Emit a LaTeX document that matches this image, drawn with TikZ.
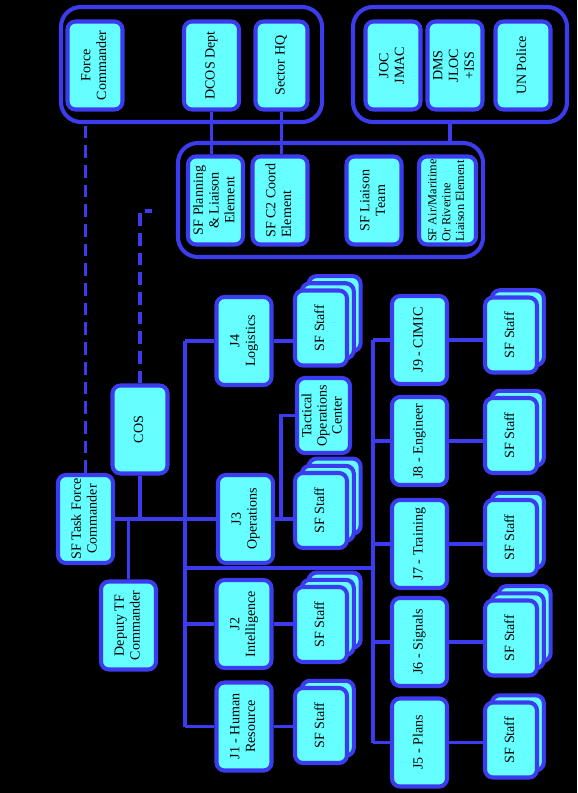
\documentclass[tikz,border=0pt]{standalone}
\usepackage{fontspec}
\setmainfont{Liberation Serif}
\usepackage{graphicx}
\usepackage{tikz}
\usetikzlibrary{positioning,backgrounds}

\definecolor{orgblue}{RGB}{60,60,238}
\definecolor{orgcyan}{RGB}{102,255,255}

% rotated box text
\newcommand{\vtext}[2][c]{\rotatebox{90}{\begin{tabular}{@{}#1@{}}#2\end{tabular}}}
% stack of SF Staff cards
\newcommand{\sfstack}[4]{%
  \foreach \k in {#4,...,1} {
    \node[staffbox, xshift=\k*0.17cm, yshift=\k*0.18cm] at (#2,#3) {};
  }
  \node[staffbox] (#1) at (#2,#3) {\vtext{SF Staff}};
}

\tikzset{
  box/.style={draw=orgblue, line width=2.9pt, fill=orgcyan, rounded corners=0.2cm,
    minimum width=1.375cm, minimum height=2.2cm, inner sep=0pt,
    font=\fontsize{10}{11.2}\selectfont},
  staffbox/.style={box, minimum width=1.3cm, minimum height=1.875cm},
  group/.style={draw=orgblue, line width=2.9pt, rounded corners=0.5cm, inner sep=0pt},
  wire/.style={draw=orgblue, line width=2.3pt},
  dashwire/.style={wire, dash pattern=on 9pt off 5pt}
}

\begin{document}
\begin{tikzpicture}[x=0.025cm, y=-0.025cm]
  % Mission HQ groups
  \node[group, minimum width=6.525cm, minimum height=2.875cm] (grpA) at (191.5,64.5) {};
  \node[group, minimum width=5.35cm, minimum height=2.875cm] (grpB) at (460,64.5) {};
  \node[group, minimum width=7.625cm, minimum height=2.85cm] (grpC) at (330.5,200) {};

  \node[box] (fc) at (95,65.5) {\vtext{Force\\Commander}};
  \node[box] (dcos) at (211.5,65.5) {\vtext{DCOS Dept}};
  \node[box, minimum width=1.3cm] (shq) at (281.5,65.5) {\vtext{Sector HQ}};
  \node[box] (joc) at (393,65.5) {\vtext{JOC\\JMAC}};
  \node[box] (dms) at (455,65.5) {\vtext{DMS\\JLOC\\+ISS}};
  \node[box] (unp) at (523,65.5) {\vtext{UN Police}};

  % Liaison elements
  \node[box] (spl) at (215.5,200.5) {\vtext{SF Planning\\\& Liaison\\Element}};
  \node[box] (sc2) at (280,200.5) {\vtext[l]{SF C2 Coord\\Element}};
  \node[box] (slt) at (374,200.5) {\vtext{SF Liaison\\Team}};
  \node[box, minimum width=1.425cm, font=\fontsize{8.8}{9.8}\selectfont] (sair) at (447.5,200.5)
    {\vtext[l]{SF Air/Maritime\\Or Riverine\\Liaison Element}};

  % Command
  \node[box] (cos) at (140,429.5) {\vtext{COS}};
  \node[box] (tfc) at (85.5,519) {\vtext{SF Task Force\\Commander}};
  \node[box] (dep) at (128.5,625.5) {\vtext{Deputy TF\\Commander}};

  % J1 - J4
  \node[box] (j4) at (244,341) {\vtext{J4\\Logistics}};
  \node[box] (j3) at (245.5,519) {\vtext{J3\\Operations}};
  \node[box] (j2) at (244,624) {\vtext{J2\\Intelligence}};
  \node[box] (j1) at (244,726.5) {\vtext{J1 - Human\\Resource}};

  \sfstack{s4}{321}{328}{2}
  \node[staffbox, minimum width=1.325cm, font=\fontsize{10}{10.8}\selectfont] (toc) at (323.5,415.5)
    {\vtext{Tactical\\Operations\\Center}};
  \sfstack{s3}{321}{510.5}{2}
  \sfstack{s2}{321}{624.5}{2}
  \sfstack{s1}{321}{725.5}{1}

  % J5 - J9
  \node[box] (j9) at (419.5,340) {\vtext{J9 - CIMIC}};
  \node[box] (j8) at (419.5,441) {\vtext{J8 - Engineer}};
  \node[box] (j7) at (419.5,544) {\vtext{J7 - Training}};
  \node[box] (j6) at (419.5,642) {\vtext{J6 - Signals}};
  \node[box] (j5) at (419.5,742.5) {\vtext{J5 - Plans}};

  \sfstack{t9}{511}{335}{1}
  \sfstack{t8}{511}{435.5}{1}
  \sfstack{t7}{511}{537.5}{1}
  \sfstack{t6}{511}{638}{2}
  \sfstack{t5}{511}{740}{1}

  \coordinate (busL) at (185,0);
  \coordinate (busR) at (373,0);
  \coordinate (cross) at (185,568);
  \coordinate (tocjoint) at (281,0);
  \coordinate (cosend) at (152,211);

  \begin{scope}[on background layer]
    \fill[black] (0,0) rectangle (577,793);

    % links between groups
    \draw[wire] (dcos.south) -- (dcos.south |- spl.north);
    \draw[wire] (shq.south) -- (shq.south |- sc2.north);
    \draw[wire] ([xshift=-0.25cm]grpB.south) -- ([xshift=-0.25cm]grpB.south |- grpC.north);
    \draw[dashwire] (tfc.north) -- (tfc.north |- grpA.south);
    \draw[dashwire] (cos.north) |- (cosend);

    % command lines
    \draw[wire] (tfc.east) -- (j3.west);
    \draw[wire] (cos.south) -- (cos.south |- tfc.east);
    \draw[wire] (dep.north) -- (dep.north |- tfc.east);

    % left bus
    \draw[wire] (busL |- j4) -- (busL |- j1);
    \foreach \j in {j4,j2,j1} \draw[wire] (busL |- \j) -- (\j.west);
    \draw[wire] (j4.east) -- (s4.west |- j4.east);
    \draw[wire] (j3.east) -- (s3.west |- j3.east);
    \draw[wire] (tocjoint |- j3) |- (toc.west);
    \draw[wire] (j2.east) -- (s2.west |- j2.east);
    \draw[wire] (j1.east) -- (s1.west |- j1.east);

    % right bus
    \draw[wire] (cross) -- (cross -| busR);
    \draw[wire] (busR |- j9) -- (busR |- j5);
    \foreach \j/\t in {j9/t9,j8/t8,j7/t7,j6/t6,j5/t5} {
      \draw[wire] (busR |- \j) -- (\j.west);
      \draw[wire] (\j.east) -- (\t.west |- \j.east);
    }
  \end{scope}
\end{tikzpicture}
\end{document}
